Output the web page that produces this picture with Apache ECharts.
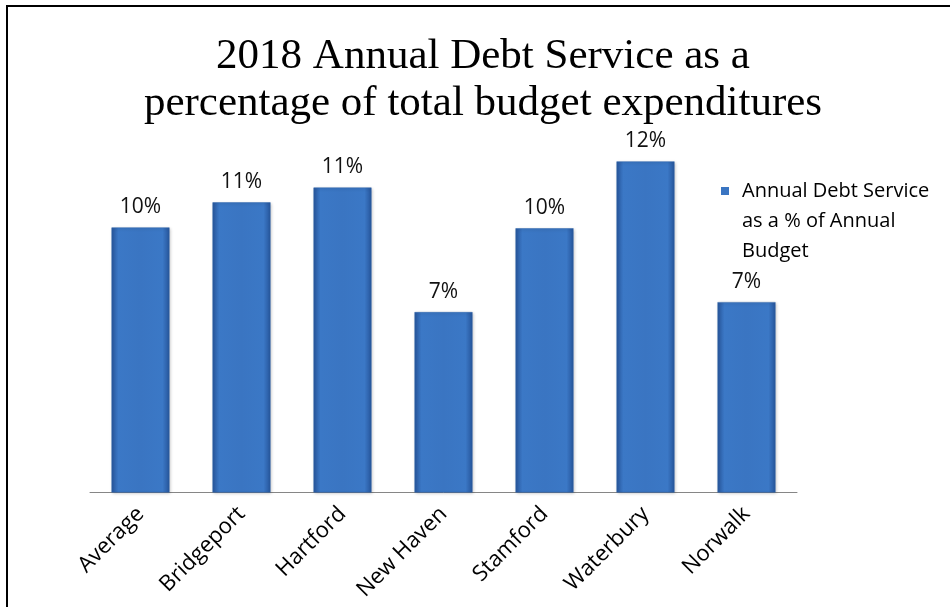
<!DOCTYPE html>
<html>
<head>
<meta charset="utf-8">
<script src="https://cdn.jsdelivr.net/npm/echarts@6/dist/echarts.min.js"></script>
<style>html,body{margin:0;padding:0;background:#fff;}#c{width:950px;height:607px;}</style>
</head>
<body>
<div id="c"></div>
<script>
var categories = ['Average', 'Bridgeport', 'Hartford', 'New Haven', 'Stamford', 'Waterbury', 'Norwalk'];
var debtServicePct = [9.83, 10.76, 11.31, 6.69, 9.80, 12.28, 7.06];
var seriesName = 'Annual Debt Service as a % of Annual Budget';
var titleText = '2018 Annual Debt Service as a\npercentage of total budget expenditures';

var barGradient = new echarts.graphic.LinearGradient(0, 0, 1, 0, [
  {offset: 0, color: '#28579e'},
  {offset: 0.12, color: '#3b78c6'},
  {offset: 0.5, color: '#3a75c2'},
  {offset: 0.88, color: '#3b78c6'},
  {offset: 1, color: '#26559b'}
]);

var chart = echarts.init(document.getElementById('c'));
chart.setOption({
  backgroundColor: '#fff',
  animation: false,
  title: {
    text: titleText,
    left: 478,
    top: 28,
    textAlign: 'center',
    textStyle: {
      fontFamily: 'Liberation Serif',
      fontSize: 43,
      fontWeight: 'normal',
      color: '#000',
      lineHeight: 47
    }
  },
  legend: {
    orient: 'vertical',
    left: 721,
    top: 176,
    padding: 0,
    itemWidth: 16,
    itemHeight: 90,
    icon: 'path://M0,0h0.01v0.01h-0.01z M0,11h8v8h-8z M15.99,89.99h0.01v0.01h-0.01z',
    itemStyle: {color: '#3a75c2', borderWidth: 0, shadowBlur: 0},
    formatter: function () { return 'Annual Debt Service\nas a % of Annual\nBudget'; },
    textStyle: {
      fontFamily: 'Open Sans',
      fontSize: 20,
      lineHeight: 30,
      color: '#000'
    },
    data: [seriesName]
  },
  grid: {
    left: 90,
    right: 153,
    top: 115,
    bottom: 114.5,
    containLabel: false
  },
  xAxis: {
    type: 'category',
    data: categories,
    axisLine: {lineStyle: {color: '#868686', width: 1}},
    axisTick: {length: 6, lineStyle: {color: '#868686'}},
    axisLabel: {
      rotate: 45,
      margin: 18,
      fontFamily: 'Open Sans',
      fontSize: 22,
      color: '#000'
    }
  },
  yAxis: {
    type: 'value',
    min: 0,
    max: 14,
    show: false,
    splitLine: {show: false}
  },
  series: [{
    name: seriesName,
    type: 'bar',
    data: debtServicePct,
    barWidth: 58,
    itemStyle: {
      color: barGradient,
      borderColor: '#2f64aa',
      borderWidth: 0.5,
      shadowColor: 'rgba(0,0,0,0.3)',
      shadowBlur: 3,
      shadowOffsetX: 1,
      shadowOffsetY: 1
    },
    label: {
      show: true,
      position: 'top',
      distance: 10,
      fontFamily: 'Open Sans',
      fontSize: 21,
      color: '#111',
      formatter: function (p) { return Math.round(p.value) + '%'; }
    }
  }],
  graphic: [{
    type: 'rect',
    shape: {x: 7, y: 6, width: 1000, height: 700},
    style: {fill: 'none', stroke: '#000', lineWidth: 2},
    silent: true
  }]
});
</script>
</body>
</html>
